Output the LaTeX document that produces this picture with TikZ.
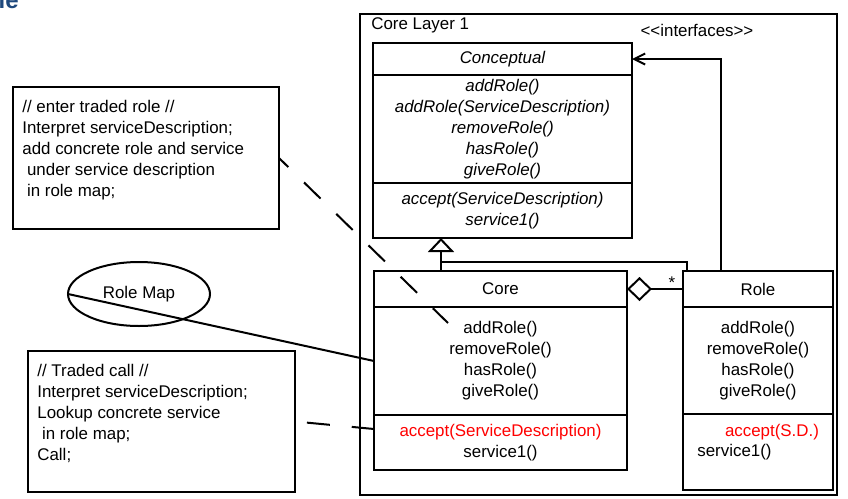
\documentclass[tikz,border=0pt]{standalone}
\usepackage{fontspec}
\setmainfont{Liberation Sans}
\usetikzlibrary{shapes.geometric,arrows.meta,calc}
\newcommand{\diagfont}{\fontsize{8.45}{10.5}\selectfont}
\definecolor{titleblue}{RGB}{31,73,125}
\tikzset{
  compart/.style={draw,line width=1pt,anchor=north west,inner sep=0pt,outer sep=0pt,align=center},
  italic/.style={font=\diagfont\itshape},
  notetext/.style={anchor=north west,inner sep=0pt,align=left},
  link/.style={line width=1pt},
  notelink/.style={line width=1pt,dash pattern=on 11.5pt off 11pt}
}

\begin{document}
\begin{tikzpicture}[x=0.5pt,y=-0.5pt,font=\diagfont]
		\useasboundingbox (0,0) rectangle (848,499);
		\node[anchor=base east,inner sep=0pt,text=titleblue,font=\fontsize{12}{14}\selectfont\bfseries] (title) at (19,8) {le};
		\node[compart,minimum width=238.5pt,minimum height=240.5pt] (layer) at (360,14) {};
		\node[anchor=west,inner sep=0pt] (layer-name) at (371,25) {Core Layer 1};
		\node[inner sep=0pt] (stereo) at (697,30) {<{}<interfaces>{}>};
		\node[compart,minimum width=129.5pt,minimum height=16pt,italic] (concept-name) at (373,43) {Conceptual};
		\node[compart,minimum width=129.5pt,minimum height=54pt,italic] (concept-ops) at (concept-name.south west) {addRole()\\addRole(ServiceDescription)\\removeRole()\\hasRole()\\giveRole()};
		\node[compart,minimum width=129.5pt,minimum height=27.5pt,italic] (concept-svc) at (concept-ops.south west) {accept(ServiceDescription)\\service1()};
		\node[compart,minimum width=126.5pt,minimum height=18pt] (core-name) at (374,271) {Core};
		\node[compart,minimum width=126.5pt,minimum height=54pt] (core-ops) at (core-name.south west) {addRole()\\removeRole()\\hasRole()\\giveRole()};
		\node[compart,minimum width=126.5pt,minimum height=27.5pt] (core-svc) at (core-ops.south west) {\textcolor{red}{accept(ServiceDescription)}\\service1()};
		\node[compart,minimum width=75pt,minimum height=18pt] (role-name) at (683,271) {Role};
		\node[compart,minimum width=75pt,minimum height=53.5pt] (role-ops) at (role-name.south west) {addRole()\\removeRole()\\hasRole()\\giveRole()};
		\node[compart,minimum width=75pt,minimum height=38pt] (role-svc) at (role-ops.south west) {};
		\node[inner sep=0pt,text=red] (role-accept) at (772,432) {accept(S.D.)};
		\node[anchor=west,inner sep=0pt] (role-service) at (697,452) {service1()};
		\node[compart,minimum width=133pt,minimum height=71pt] (enter-note) at (13,87) {};
		\node[notetext] (enter-text) at (22,100) {// enter traded role //\\Interpret serviceDescription;\\add concrete role and service\\\ under service description\\\ in role map;};
		\node[compart,minimum width=133.5pt,minimum height=70.5pt] (call-note) at (28,351) {};
		\node[notetext] (call-text) at (37,364) {// Traded call //\\Interpret serviceDescription;\\Lookup concrete service\\\ in role map;\\Call;};
		\node[draw,ellipse,line width=1pt,minimum width=71pt,minimum height=32pt,inner sep=0pt,outer sep=0pt] (role-map) at (139,294) {Role Map};
		\coordinate (gen-joint) at (441,262);
		\coordinate (enter-end) at (448,323);
		\draw[link] ([xshift=2pt]role-name.north west) |- (gen-joint);
		\draw[link,-{Triangle[open,length=7pt,width=13pt]}] (gen-joint |- core-name.north) -- (gen-joint |- concept-svc.south);
		\draw[link,-{Straight Barb[length=5.5pt,width=5.5pt]}] ([xshift=19pt]role-name.north west) |- (concept-name.east);
		\draw[link,{Diamond[open,length=12.5pt,width=12pt]}-] (core-name.east) -- node[pos=0.8,above,inner sep=0pt] (many) {*} (role-name.west);
		\draw[link] (role-map.west) -- (core-ops.west);
		\draw[notelink,dash phase=5pt] (enter-note.east) -- (enter-end);
		\draw[notelink,dash phase=16.5pt] (call-note.east) -- ([yshift=-7pt]core-svc.north west);
\end{tikzpicture}
\end{document}
